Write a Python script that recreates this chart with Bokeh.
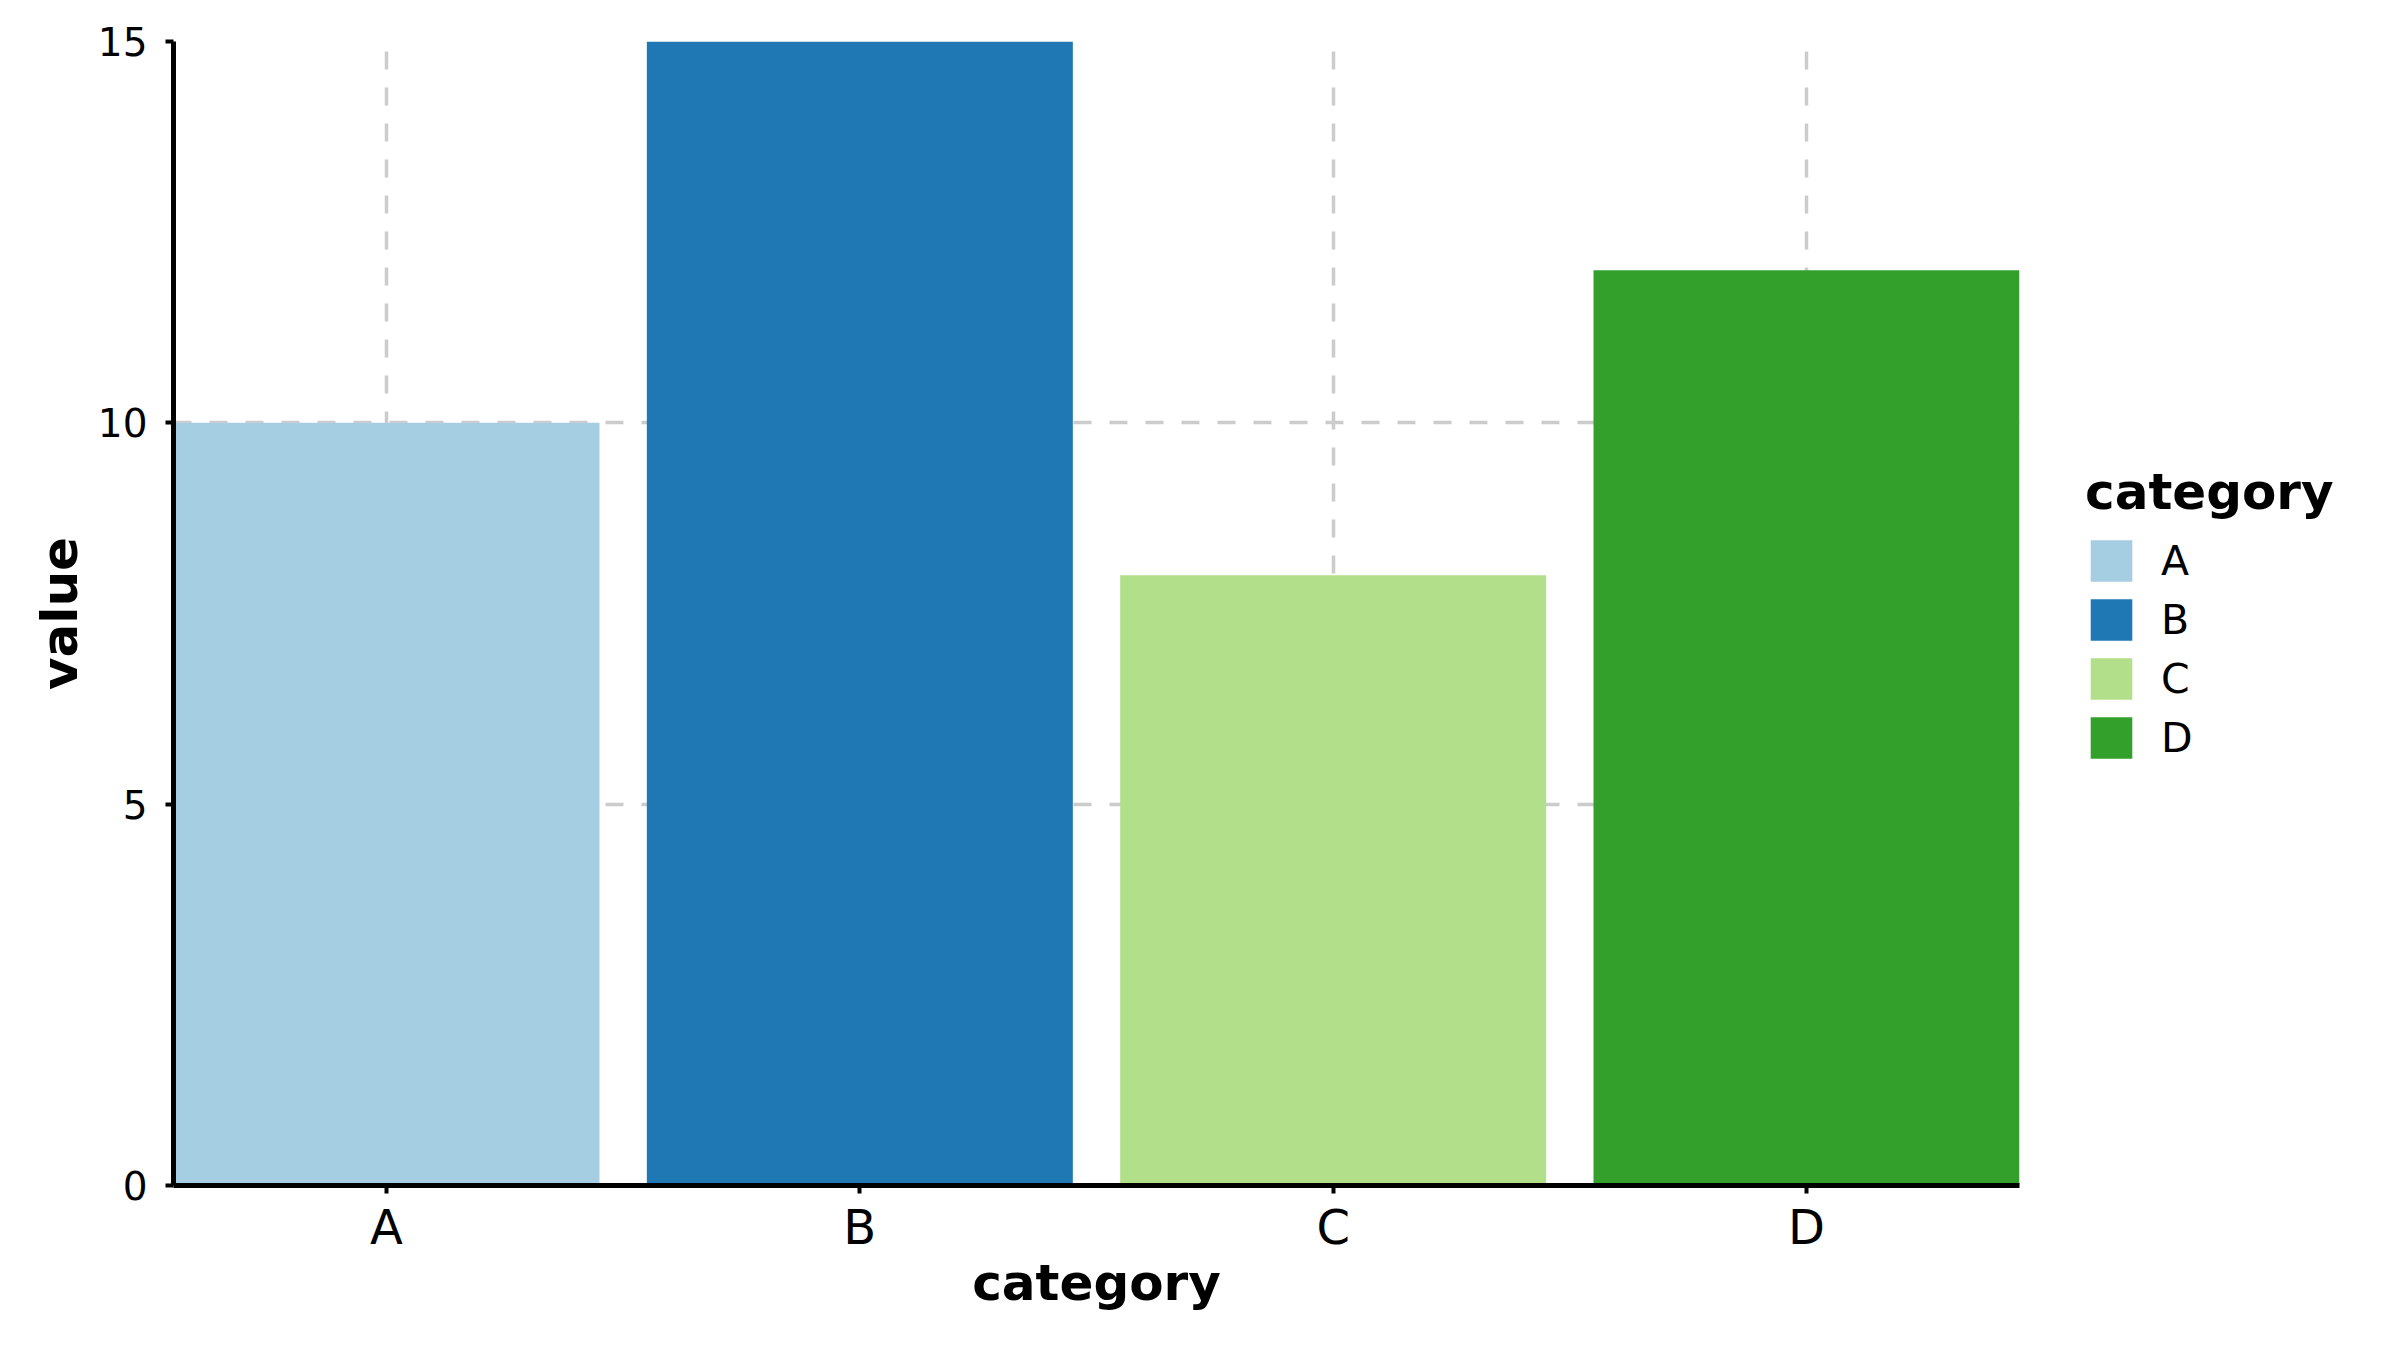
from bokeh.plotting import figure
from bokeh.models import ColumnDataSource, Range1d, FixedTicker
from bokeh.embed import file_html
from bokeh.resources import INLINE

categories = ["A", "B", "C", "D"]
values = [10, 15, 8, 12]
colors = ["#a6cee3", "#1f78b4", "#b2df8a", "#33a02c"]
y_ticks = [0, 5, 10, 15]

x_pos = list(range(len(categories)))
src = ColumnDataSource(dict(x=x_pos, top=values, color=colors, cat=categories))

p = figure(frame_width=1846, frame_height=1144,
           x_range=Range1d(-0.45, len(categories) - 0.55), y_range=Range1d(0, 15),
           output_backend="svg", toolbar_location=None,
           min_border_left=173, min_border_top=41, min_border_bottom=150, min_border_right=10)

p.vbar(x="x", top="top", bottom=0, width=0.9, source=src, fill_color="color",
       line_color=None, legend_field="cat")

FONT = "DejaVu Sans"
p.outline_line_color = None
p.background_fill_color = "white"
p.border_fill_color = "white"

p.xaxis.ticker = FixedTicker(ticks=x_pos)
p.xaxis.major_label_overrides = {i: c for i, c in zip(x_pos, categories)}
p.yaxis.ticker = FixedTicker(ticks=y_ticks)
for ax in (p.xaxis[0], p.yaxis[0]):
    ax.axis_line_width = 5
    ax.axis_line_color = "black"
    ax.major_tick_in = 0
    ax.major_tick_out = 8
    ax.major_tick_line_width = 4
    ax.minor_tick_line_color = None
    ax.major_label_text_font = FONT
    ax.axis_label_text_font = FONT
    ax.axis_label_text_font_style = "bold"
    ax.axis_label_text_font_size = "50px"
    ax.axis_label_text_color = "black"
    ax.major_label_text_color = "black"

p.xaxis.major_label_standoff = 5
p.yaxis.major_label_standoff = 18
p.xaxis.major_label_text_font_size = "48px"
p.yaxis.major_label_text_font_size = "39px"
p.xaxis.axis_label = "category"
p.yaxis.axis_label = "value"
p.xaxis.axis_label_standoff = -4
p.yaxis.axis_label_standoff = 6

p.grid.grid_line_color = "#cccccc"
p.grid.grid_line_width = 3.5
p.grid.grid_line_dash = "18 18"

leg = p.legend[0]
p.add_layout(leg, "right")
leg.location = "center_left"
leg.title = "category"
leg.title_text_font = FONT
leg.title_text_font_style = "bold"
leg.title_text_font_size = "50px"
leg.title_text_color = "black"
leg.title_standoff = 14
leg.label_text_font = FONT
leg.label_text_font_size = "41px"
leg.label_text_color = "black"
leg.glyph_width = 52
leg.glyph_height = 52
leg.label_standoff = 24
leg.spacing = 7
leg.margin = 66
leg.padding = 10
leg.border_line_color = None
leg.background_fill_color = None

open("out.html", "w").write(file_html(p, INLINE))
